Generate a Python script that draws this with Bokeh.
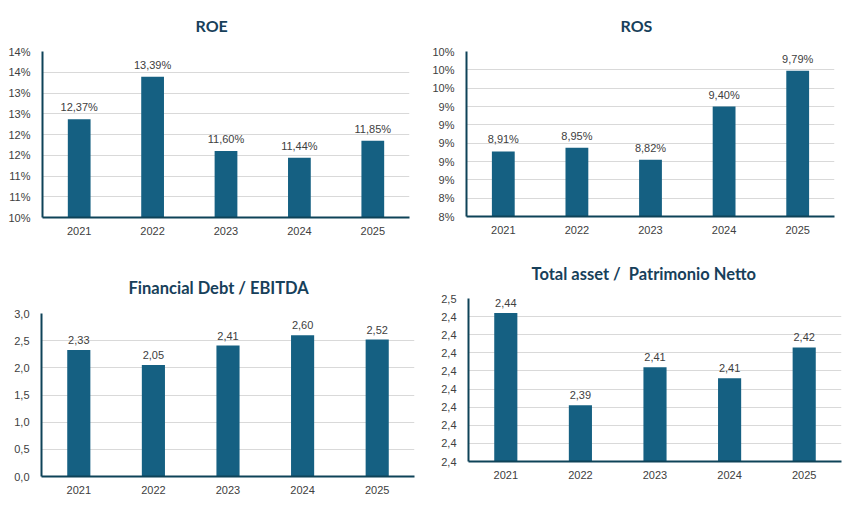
from bokeh.plotting import figure
from bokeh.layouts import column, row
from bokeh.models import ColumnDataSource, LabelSet, Range1d, FixedTicker, Title
from bokeh.core.properties import value
from bokeh.embed import file_html
from bokeh.resources import INLINE

years = ["2021", "2022", "2023", "2024", "2025"]

roe = [12.37, 13.39, 11.60, 11.44, 11.85]
roe_ticks = [10.0, 10.5, 11.0, 11.5, 12.0, 12.5, 13.0, 13.5, 14.0]
roe_tick_labels = ["10%", "11%", "11%", "12%", "12%", "13%", "13%", "14%", "14%"]

ros = [8.91, 8.95, 8.82, 9.40, 9.79]
ros_ticks = [8.2, 8.4, 8.6, 8.8, 9.0, 9.2, 9.4, 9.6, 9.8, 10.0]
ros_tick_labels = ["8%", "8%", "9%", "9%", "9%", "9%", "9%", "10%", "10%", "10%"]

debt = [2.33, 2.05, 2.41, 2.60, 2.52]
debt_ticks = [0.0, 0.5, 1.0, 1.5, 2.0, 2.5, 3.0]
debt_tick_labels = ["0,0", "0,5", "1,0", "1,5", "2,0", "2,5", "3,0"]

leverage = [2.442, 2.391, 2.412, 2.406, 2.423]
lev_ticks = [2.36, 2.37, 2.38, 2.39, 2.40, 2.41, 2.42, 2.43, 2.44, 2.45]
lev_tick_labels = ["2,4", "2,4", "2,4", "2,4", "2,4", "2,4", "2,4", "2,4", "2,4", "2,5"]

BAR = "#156082"
AXIS = "#0E4358"
TEXT = "#404040"
TITLE = "#17405A"


def make_chart(title, vals, labels, ticks, tick_labels, ymin, ymax,
               w, h, left, right, top, bottom, t_off, t_stand, tsize):
    p = figure(x_range=years, y_range=Range1d(ymin, ymax), width=w, height=h,
               title=title, output_backend="svg", toolbar_location=None,
               min_border_left=left, min_border_right=right,
               min_border_top=top, min_border_bottom=bottom)
    src = ColumnDataSource(dict(x=years, top=vals, lab=labels))
    p.vbar(x="x", top="top", bottom=ymin, width=0.31, source=src,
           fill_color=BAR, line_color=None)
    p.add_layout(LabelSet(x="x", y="top", text="lab", source=src,
                          text_align="center", text_baseline="bottom",
                          y_offset=6, text_font=value("Liberation Sans"),
                          text_font_size="11px", text_color=TEXT))

    p.title.align = "left"
    p.title.offset = t_off
    p.title.standoff = t_stand
    p.title.text_font = "Lato"
    p.title.text_font_style = "bold"
    p.title.text_font_size = tsize
    p.title.text_color = TITLE
    # small empty title between the real one and the frame
    p.add_layout(Title(text=" ", text_font_size="1px", standoff=1), "above")

    p.outline_line_color = None
    p.xgrid.grid_line_color = None
    p.ygrid.grid_line_color = "#D9D9D9"
    p.ygrid.grid_line_width = 1

    p.yaxis.ticker = FixedTicker(ticks=ticks)
    p.yaxis.major_label_overrides = {t: s for t, s in zip(ticks, tick_labels)}
    for ax in (p.xaxis, p.yaxis):
        ax.axis_line_color = AXIS
        ax.axis_line_width = 2
        ax.major_tick_line_color = None
        ax.minor_tick_line_color = None
        ax.major_tick_out = 0
        ax.major_tick_in = 0
        ax.major_label_text_font = "Liberation Sans"
        ax.major_label_text_font_size = "11px"
        ax.major_label_text_color = TEXT
    p.yaxis.major_label_standoff = 12
    p.xaxis.major_label_standoff = 9
    return p


def pct(v):
    return ["%.2f%%" % x for x in v]


def dec(v):
    return ["%.2f" % x for x in v]


def comma(lst):
    return [s.replace(".", ",") for s in lst]


p1 = make_chart("ROE", roe, comma(pct(roe)), roe_ticks, roe_tick_labels, 10, 14,
                428, 262, 42, 19, 51, 45, 153, 25, "16px")
p2 = make_chart("ROS", ros, comma(pct(ros)), ros_ticks, ros_tick_labels, 8.2, 10.0,
                421, 250, 38, 15, 51, 34, 154, 25, "16px")
p3 = make_chart("Financial Debt / EBITDA", debt, comma(dec(debt)), debt_ticks,
                debt_tick_labels, 0, 3.0, 428, 244, 41, 14, 51, 30, 87, 24, "16.5px")
p4 = make_chart("Total asset /\u00a0 Patrimonio Netto", leverage, comma(dec(leverage)),
                lev_ticks, lev_tick_labels, 2.36, 2.45, 421, 256, 40, 8, 48, 45,
                63, 21, "16.5px")

layout = row(column(row(p1), row(p3)), column(row(p2), row(p4)))

open("out.html", "w").write(file_html(layout, INLINE))
